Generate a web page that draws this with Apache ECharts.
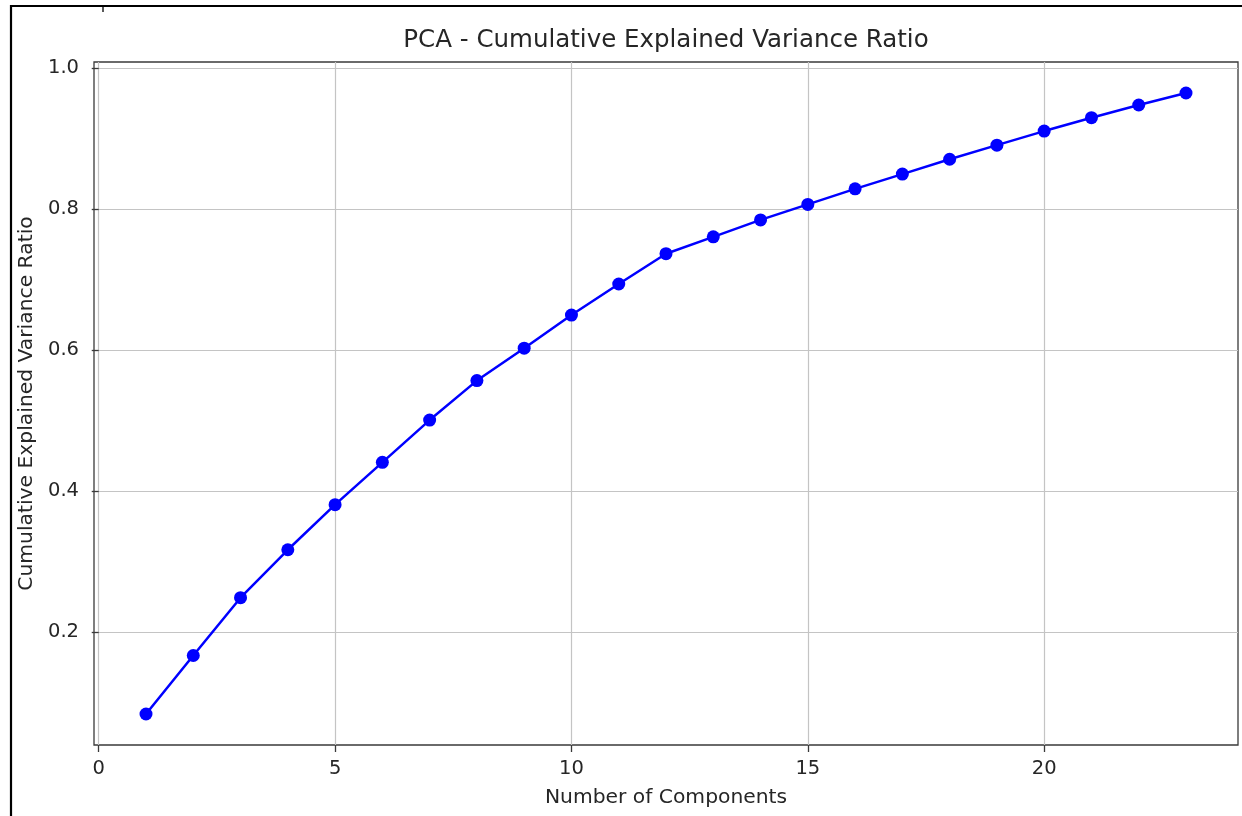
<!DOCTYPE html>
<html>
<head>
<meta charset="utf-8">
<style>
  html, body { margin: 0; padding: 0; background: #ffffff; }
  #chart { width: 1242px; height: 816px; }
</style>
<script src="https://cdn.jsdelivr.net/npm/echarts@6/dist/echarts.min.js"></script>
</head>
<body>
<div id="chart"></div>
<script>
const components = [1, 2, 3, 4, 5, 6, 7, 8, 9, 10, 11, 12, 13, 14, 15, 16, 17, 18, 19, 20, 21, 22, 23];
const cumulativeRatio = [0.084, 0.167, 0.249, 0.317, 0.381, 0.441, 0.501, 0.557, 0.603, 0.650, 0.694, 0.737, 0.761, 0.785, 0.807, 0.829, 0.850, 0.871, 0.891, 0.911, 0.930, 0.948, 0.965];
const xTicks = [0, 5, 10, 15, 20];
const yTicks = [0.2, 0.4, 0.6, 0.8, 1.0];

const FONT = 'DejaVu Sans';
const TXT = '#262626';

const chart = echarts.init(document.getElementById('chart'), null, { renderer: 'canvas' });
chart.setOption({
  animation: false,
  backgroundColor: '#ffffff',
  title: {
    text: 'PCA - Cumulative Explained Variance Ratio',
    left: 666,
    top: 28,
    textAlign: 'center',
    padding: 0,
    textStyle: { fontFamily: FONT, fontSize: 24.5, fontWeight: 'normal', color: TXT }
  },
  grid: {
    left: 94, top: 62, right: 4, bottom: 71,
    show: true, borderColor: '#3a3a3a', borderWidth: 1.3, backgroundColor: 'transparent'
  },
  xAxis: {
    type: 'value',
    min: -0.1, max: 24.1,
    name: 'Number of Components',
    nameLocation: 'middle',
    nameGap: 43,
    nameTextStyle: { fontFamily: FONT, fontSize: 20.3, color: TXT },
    axisLine: { show: false },
    axisTick: { show: true, length: 7, customValues: xTicks, lineStyle: { color: '#3a3a3a', width: 1.3 } },
    axisLabel: { customValues: xTicks, fontFamily: FONT, fontSize: 19.5, color: TXT, margin: 14, formatter: v => String(v) },
    splitLine: { show: true, lineStyle: { color: '#c4c4c4', width: 1.2 } }
  },
  yAxis: {
    type: 'value',
    min: 0.040, max: 1.009,
    name: 'Cumulative Explained Variance Ratio',
    nameLocation: 'middle',
    nameGap: 57,
    nameTextStyle: { fontFamily: FONT, fontSize: 20.3, color: TXT },
    axisLine: { show: false },
    axisTick: { show: true, length: 7, customValues: yTicks, lineStyle: { color: '#3a3a3a', width: 1.3 } },
    axisLabel: { customValues: yTicks, fontFamily: FONT, fontSize: 19.5, color: TXT, margin: 15, formatter: v => v.toFixed(1) },
    splitLine: { show: true, lineStyle: { color: '#c4c4c4', width: 1.2 } }
  },
  graphic: [
    { type: 'polyline', shape: { points: [[11, 816], [11, 6], [1242, 6]] }, style: { stroke: '#000', lineWidth: 2.2, fill: null }, silent: true },
    { type: 'line', shape: { x1: 103, y1: 7, x2: 103, y2: 12 }, style: { stroke: '#222', lineWidth: 1.5 }, silent: true }
  ],
  series: [{
    type: 'line',
    data: components.map((c, i) => [c, cumulativeRatio[i]]),
    symbol: 'circle',
    symbolSize: 13,
    showSymbol: true,
    lineStyle: { color: '#0000ff', width: 2.5 },
    itemStyle: { color: '#0000ff' },
    clip: false
  }]
});
</script>
</body>
</html>
